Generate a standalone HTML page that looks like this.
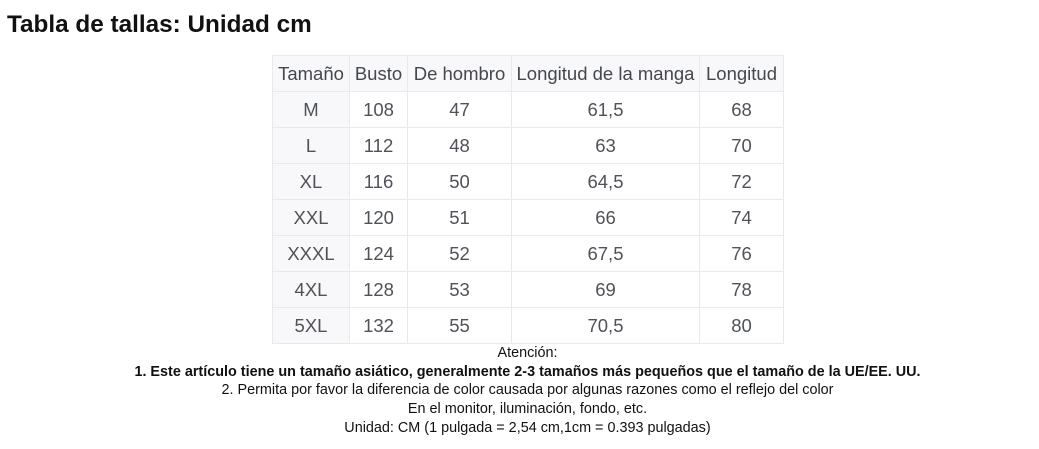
<!DOCTYPE html>
<html>
<head>
<meta charset="utf-8">
<style>
html,body{margin:0;padding:0;background:#fff;}
body{width:1039px;height:449px;overflow:hidden;position:relative;font-family:"Liberation Sans",Arial,sans-serif;}
.title{position:absolute;left:7px;top:11px;font-size:24.3px;font-weight:bold;color:#111;white-space:nowrap;}
table{position:absolute;left:272px;top:55px;border-collapse:collapse;table-layout:fixed;width:511px;}
td{border:1px solid #e9e9ec;height:35px;padding:0;text-align:center;vertical-align:middle;font-size:18.5px;color:#4f5258;white-space:nowrap;overflow:hidden;}
tr.h td{background:#f8f8fa;color:#44474d;}
td.f{background:#f8f8fa;}
.notes{position:absolute;left:0;top:344px;width:1055px;text-align:center;font-size:14.4px;line-height:18.7px;color:#111;}
.notes b{font-weight:bold;}
</style>
</head>
<body>
<div class="title">Tabla de tallas: Unidad cm</div>
<table>
<colgroup><col style="width:77px"><col style="width:58px"><col style="width:104px"><col style="width:188px"><col style="width:84px"></colgroup>
<tr class="h"><td>Tamaño</td><td>Busto</td><td>De hombro</td><td>Longitud de la manga</td><td>Longitud</td></tr>
<tr><td class="f">M</td><td>108</td><td>47</td><td>61,5</td><td>68</td></tr>
<tr><td class="f">L</td><td>112</td><td>48</td><td>63</td><td>70</td></tr>
<tr><td class="f">XL</td><td>116</td><td>50</td><td>64,5</td><td>72</td></tr>
<tr><td class="f">XXL</td><td>120</td><td>51</td><td>66</td><td>74</td></tr>
<tr><td class="f">XXXL</td><td>124</td><td>52</td><td>67,5</td><td>76</td></tr>
<tr><td class="f">4XL</td><td>128</td><td>53</td><td>69</td><td>78</td></tr>
<tr><td class="f">5XL</td><td>132</td><td>55</td><td>70,5</td><td>80</td></tr>
</table>
<div class="notes">
Atención:<br>
<b>1. Este artículo tiene un tamaño asiático, generalmente 2-3 tamaños más pequeños que el tamaño de la UE/EE. UU.</b><br>
2. Permita por favor la diferencia de color causada por algunas razones como el reflejo del color<br>
En el monitor, iluminación, fondo, etc.<br>
Unidad: CM (1 pulgada = 2,54 cm,1cm = 0.393 pulgadas)
</div>
</body>
</html>
